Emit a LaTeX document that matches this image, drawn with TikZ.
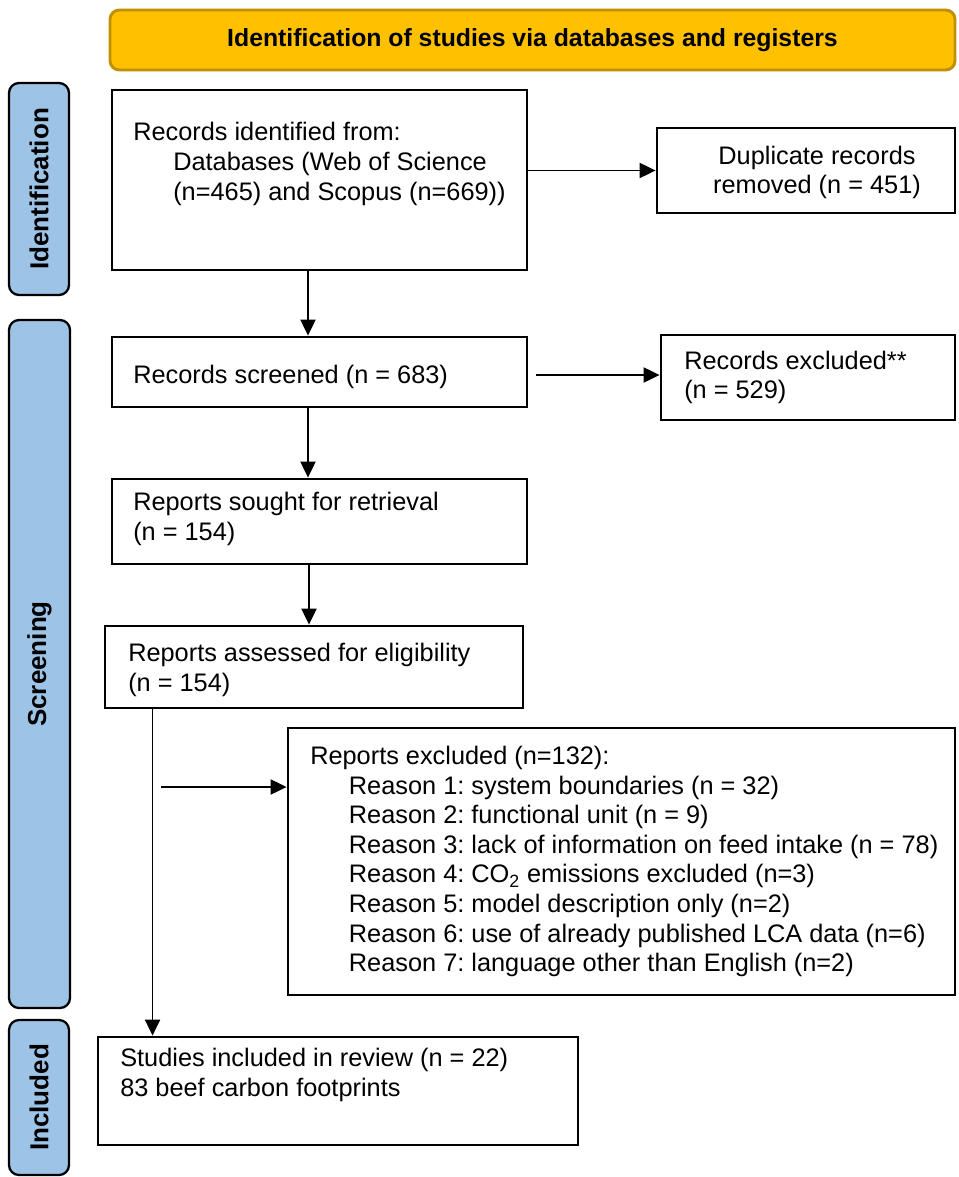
\documentclass[tikz,border=0pt]{standalone}
\usepackage{fontspec}
\setmainfont{Liberation Sans}
\usetikzlibrary{arrows.meta,fit,calc}
\definecolor{gold}{HTML}{FFC000}
\definecolor{golddark}{HTML}{BF9000}
\definecolor{barblue}{HTML}{9DC3E6}
\tikzset{
  box/.style={draw=black, line width=2.2pt, inner sep=0pt},
  bar/.style={draw=black, line width=1.7pt, fill=barblue, rounded corners=7.5pt, inner sep=0pt},
  txt/.style={inner sep=0pt, align=left, font=\fontsize{19}{22.2}\selectfont\frenchspacing},
  barlabel/.style={inner sep=0pt, rotate=90, font=\fontsize{19.5}{21}\selectfont\bfseries},
  conn/.style={line width=0.8pt, -{Triangle[length=12pt,width=11.5pt]}}
}
\begin{document}
\begin{tikzpicture}[x=0.75pt,y=-0.75pt]
\useasboundingbox (0,0) rectangle (959,1177);
% header
\node[draw=golddark, line width=2.2pt, fill=gold, rounded corners=7pt, inner sep=0pt, fit={(110,10) (955,70)}] (head) {};
\node[inner sep=0pt, font=\fontsize{18.6}{20}\selectfont\bfseries] (headt) at (head.center) {Identification of studies via databases and registers};
% side bars
\node[bar, fit={(9,83) (69,295)}] (bid) {};
\node[barlabel] (bidt) at (bid.center) {Identification};
\node[bar, fit={(9,320) (70,1008)}] (bsc) {};
\node[barlabel] (bsct) at (bsc.center) {Screening};
\node[bar, fit={(9,1020) (69,1175)}] (bin) {};
\node[barlabel] (bint) at (bin.center) {Included};
% boxes
\node[box, fit={(112,90) (527,270)}] (b1) {};
\node[txt, anchor=west] (b1t) at (133,164) {Records identified from:\\\hspace*{30pt}Databases (Web of Science\\\hspace*{30pt}(n=465) and Scopus (n=669))};
\node[box, fit={(657,128) (955,213)}] (dup) {};
\node[txt, align=center] (dupt) at (817,172.5) {Duplicate records\\removed (n = 451)};
\node[box, fit={(112,337) (527,407)}] (b2) {};
\node[txt, anchor=west] (b2t) at (133,377) {Records screened (n = 683)};
\node[box, fit={(661,335) (955,420)}] (rexc) {};
\node[txt, anchor=west] (rexct) at (684,377.5) {Records excluded**\\(n = 529)};
\node[box, fit={(112,479) (527,564)}] (b3) {};
\node[txt, anchor=west] (b3t) at (133,519) {Reports sought for retrieval\\(n = 154)};
\node[box, fit={(105,626) (523,708)}] (b4) {};
\node[txt, anchor=west] (b4t) at (128,670) {Reports assessed for eligibility\\(n = 154)};
\node[box, fit={(288,728) (955,995)}] (excl) {};
\node[txt, anchor=west] (exclt) at (310,861.5) {Reports excluded (n=132):\\
\hspace*{29pt}Reason 1: system boundaries (n = 32)\\
\hspace*{29pt}Reason 2: functional unit (n = 9)\\
\hspace*{29pt}Reason 3: lack of information on feed intake (n = 78)\\
\hspace*{29pt}Reason 4: CO\textsubscript{2} emissions excluded (n=3)\\
\hspace*{29pt}Reason 5: model description only (n=2)\\
\hspace*{29pt}Reason 6: use of already published LCA data (n=6)\\
\hspace*{29pt}Reason 7: language other than English (n=2)};
\node[box, fit={(98,1037) (578,1145)}] (b5) {};
\node[txt, anchor=west] (b5t) at (120,1075) {Studies included in review (n = 22)\\83 beef carbon footprints};
% connectors
\draw[conn] (b1.east |- dup.west) -- (dup.west);
\draw[conn] ($(b1.south)+(-11.5,-2)$) -- ($(b2.north)+(-11.5,0)$);
\draw[conn] ($(b2.east)+(8,3)$) -- ($(rexc.west)+(0,-2.5)$);
\draw[conn] ($(b2.south)+(-11.5,0)$) -- ($(b3.north)+(-11.5,0)$);
\draw[conn] ($(b3.south)+(-10.5,0)$) -- ($(b4.north)+(-5,0)$);
\coordinate (split) at (161,787);
\draw[conn] ($(b4.south west)+(49,0)$) -- ($(b5.north west)+(56,0)$);
\draw[conn] (split) -- (split -| excl.west);
\end{tikzpicture}
\end{document}
